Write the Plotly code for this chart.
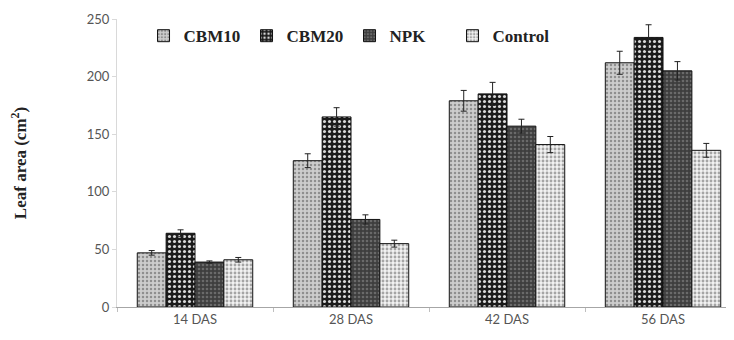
import plotly.graph_objects as go

categories = ["14 DAS", "28 DAS", "42 DAS", "56 DAS"]
series_names = ["CBM10", "CBM20", "NPK", "Control"]
cbm10 = [47, 127, 179, 212]
cbm20 = [64, 165, 185, 234]
npk = [39, 76, 157, 205]
control = [41, 55, 141, 136]
cbm10_err = [2, 6, 9, 10]
cbm20_err = [3, 8, 10, 11]
npk_err = [1, 4, 6, 8]
control_err = [2, 3, 7, 6]

values = [cbm10, cbm20, npk, control]
errors = [cbm10_err, cbm20_err, npk_err, control_err]
styles = [
    dict(shape=".", fgcolor="#8f8f8f", bgcolor="#cdcdcd", size=4, solidity=0.3),
    dict(shape=".", fgcolor="#d8d8d8", bgcolor="#1a1a1a", size=5, solidity=0.3),
    dict(shape=".", fgcolor="#6a6a6a", bgcolor="#3e3e3e", size=4, solidity=0.35),
    dict(shape=".", fgcolor="#a5a5a5", bgcolor="#f2f2f2", size=4, solidity=0.4),
]

fig = go.Figure()
for name, vals, err, st in zip(series_names, values, errors, styles):
    fig.add_trace(go.Bar(
        x=categories, y=vals, name="<b>" + name + "</b>",
        marker=dict(color=st["bgcolor"], line=dict(color="#111111", width=1),
                    pattern=dict(fillmode="replace", **st)),
        error_y=dict(type="data", array=err, visible=True, color="#222222", thickness=1, width=3),
    ))

fig.update_layout(
    width=734, height=340,
    margin=dict(l=109, r=8, t=11, b=41, autoexpand=False),
    paper_bgcolor="white", plot_bgcolor="white",
    barmode="group", bargap=0.26, bargroupgap=0,
    legend=dict(orientation="h", x=0.043, y=1.003, xanchor="left", yanchor="top",
                font=dict(family="Liberation Serif", size=17, color="#222222"),
                entrywidth=58, entrywidthmode="pixels", bgcolor="rgba(0,0,0,0)",
                itemclick=False),
    xaxis=dict(range=[-0.5, 3.455], showline=True, linecolor="#a6a6a6", linewidth=1,
               automargin=False,
               ticks="outside", tickson="boundaries", ticklen=4, tickcolor="#bfbfbf",
               tickfont=dict(family="Lato", size=13, color="#555555"), showgrid=False),
    yaxis=dict(range=[0, 250], dtick=50, showline=True, linecolor="#d9d9d9", linewidth=1,
               automargin=False,
               ticks="outside", ticklen=4, tickcolor="#d9d9d9", showgrid=False, zeroline=False,
               tickfont=dict(family="Lato", size=13, color="#555555"),
               title=dict(text="<b>Leaf area (cm<sup>2</sup>)</b>", standoff=58,
                          font=dict(family="Liberation Serif", size=17, color="#222222"))),
)

fig.write_html("out.html")
